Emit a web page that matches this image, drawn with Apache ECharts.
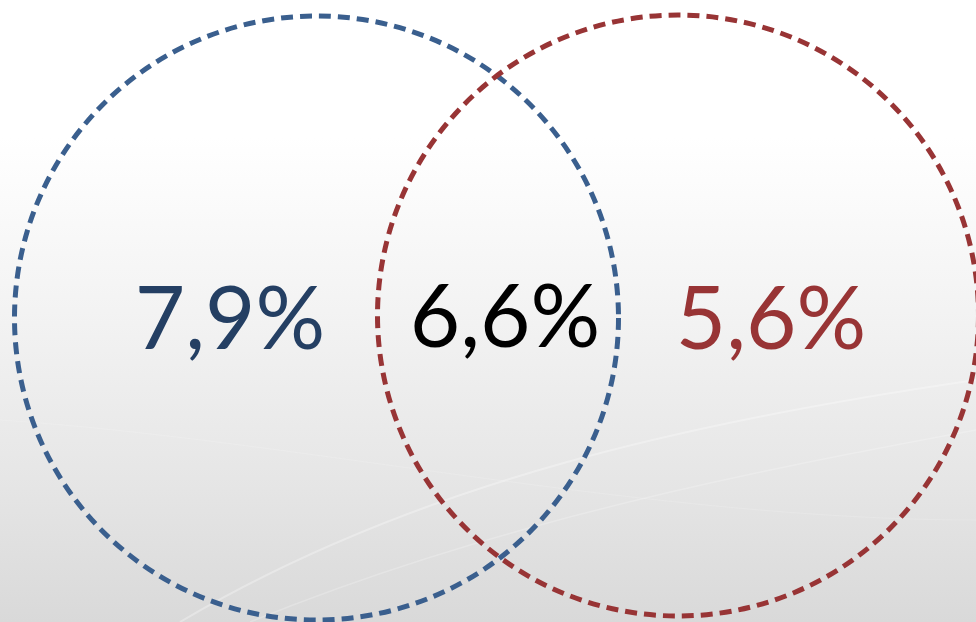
<!DOCTYPE html>
<html><head><meta charset="utf-8">
<script src="https://cdn.jsdelivr.net/npm/echarts@6/dist/echarts.min.js"></script>
<style>html,body{margin:0;padding:0;}#c{width:976px;height:622px;}</style>
</head><body><div id="c"></div>
<script>
// Data
const setNames = ['Set A', 'Set B'];
const regionNames = ['A only', 'A ∩ B', 'B only'];
const regionValues = [7.9, 6.6, 5.6];

// Layout (pixel-like coordinate space of the axes)
const circleCenters = [[316.5, 318], [678, 315.5]];
const circleRadius = [302, 300.5];
const labelPos = [[230, 321], [505, 319], [771, 321]];
const circleColors = ['#3a5f8e', '#983435'];
const labelColors = ['#243f63', '#000000', '#983435'];

const fmt = v => v.toFixed(1).replace('.', ',') + '%';

const chart = echarts.init(document.getElementById('c'), null, {renderer: 'canvas'});
chart.setOption({
  animation: false,
  backgroundColor: {
    type: 'linear', x: 0, y: 0, x2: 0, y2: 1,
    colorStops: [
      {offset: 0, color: '#ffffff'},
      {offset: 0.22, color: '#ffffff'},
      {offset: 0.5, color: '#f3f3f3'},
      {offset: 0.75, color: '#e7e7e7'},
      {offset: 1, color: '#d9d9d9'}
    ]
  },
  graphic: [
    {type: 'bezierCurve', silent: true, z: 0,
     shape: {x1: 180, y1: 622, x2: 976, y2: 380, cpx1: 420, cpy1: 480, cpx2: 700, cpy2: 420},
     style: {stroke: 'rgba(255,255,255,0.3)', lineWidth: 2, fill: null}},
    {type: 'bezierCurve', silent: true, z: 0,
     shape: {x1: 250, y1: 622, x2: 976, y2: 430, cpx1: 500, cpy1: 520, cpx2: 760, cpy2: 470},
     style: {stroke: 'rgba(255,255,255,0.22)', lineWidth: 1.5, fill: null}},
    {type: 'bezierCurve', silent: true, z: 0,
     shape: {x1: 0, y1: 420, x2: 976, y2: 520, cpx1: 300, cpy1: 440, cpx2: 650, cpy2: 520},
     style: {stroke: 'rgba(255,255,255,0.15)', lineWidth: 1, fill: null}}
  ],
  grid: {left: 0, right: 0, top: 0, bottom: 0},
  xAxis: {type: 'value', min: 0, max: 976, show: false},
  yAxis: {type: 'value', min: 0, max: 622, inverse: true, show: false},
  series: [
    {
      type: 'scatter',
      symbol: 'circle',
      data: setNames.map((n, i) => ({
        name: n,
        value: circleCenters[i],
        symbolSize: circleRadius[i] * 2,
        itemStyle: {
          color: 'rgba(0,0,0,0)',
          borderColor: circleColors[i],
          borderWidth: 5,
          borderType: [12, 7],
          opacity: 1
        }
      })),
      silent: true,
      z: 2
    },
    {
      type: 'scatter',
      symbolSize: 0,
      itemStyle: {opacity: 1},
      data: regionNames.map((n, i) => ({
        name: n,
        value: labelPos[i].concat(regionValues[i]),
        label: {
          show: true,
          position: 'inside',
          formatter: fmt(regionValues[i]),
          color: labelColors[i],
          fontFamily: 'Lato',
          fontSize: 87,
          fontWeight: 'normal'
        }
      })),
      silent: true,
      z: 3
    }
  ]
});
</script></body></html>
